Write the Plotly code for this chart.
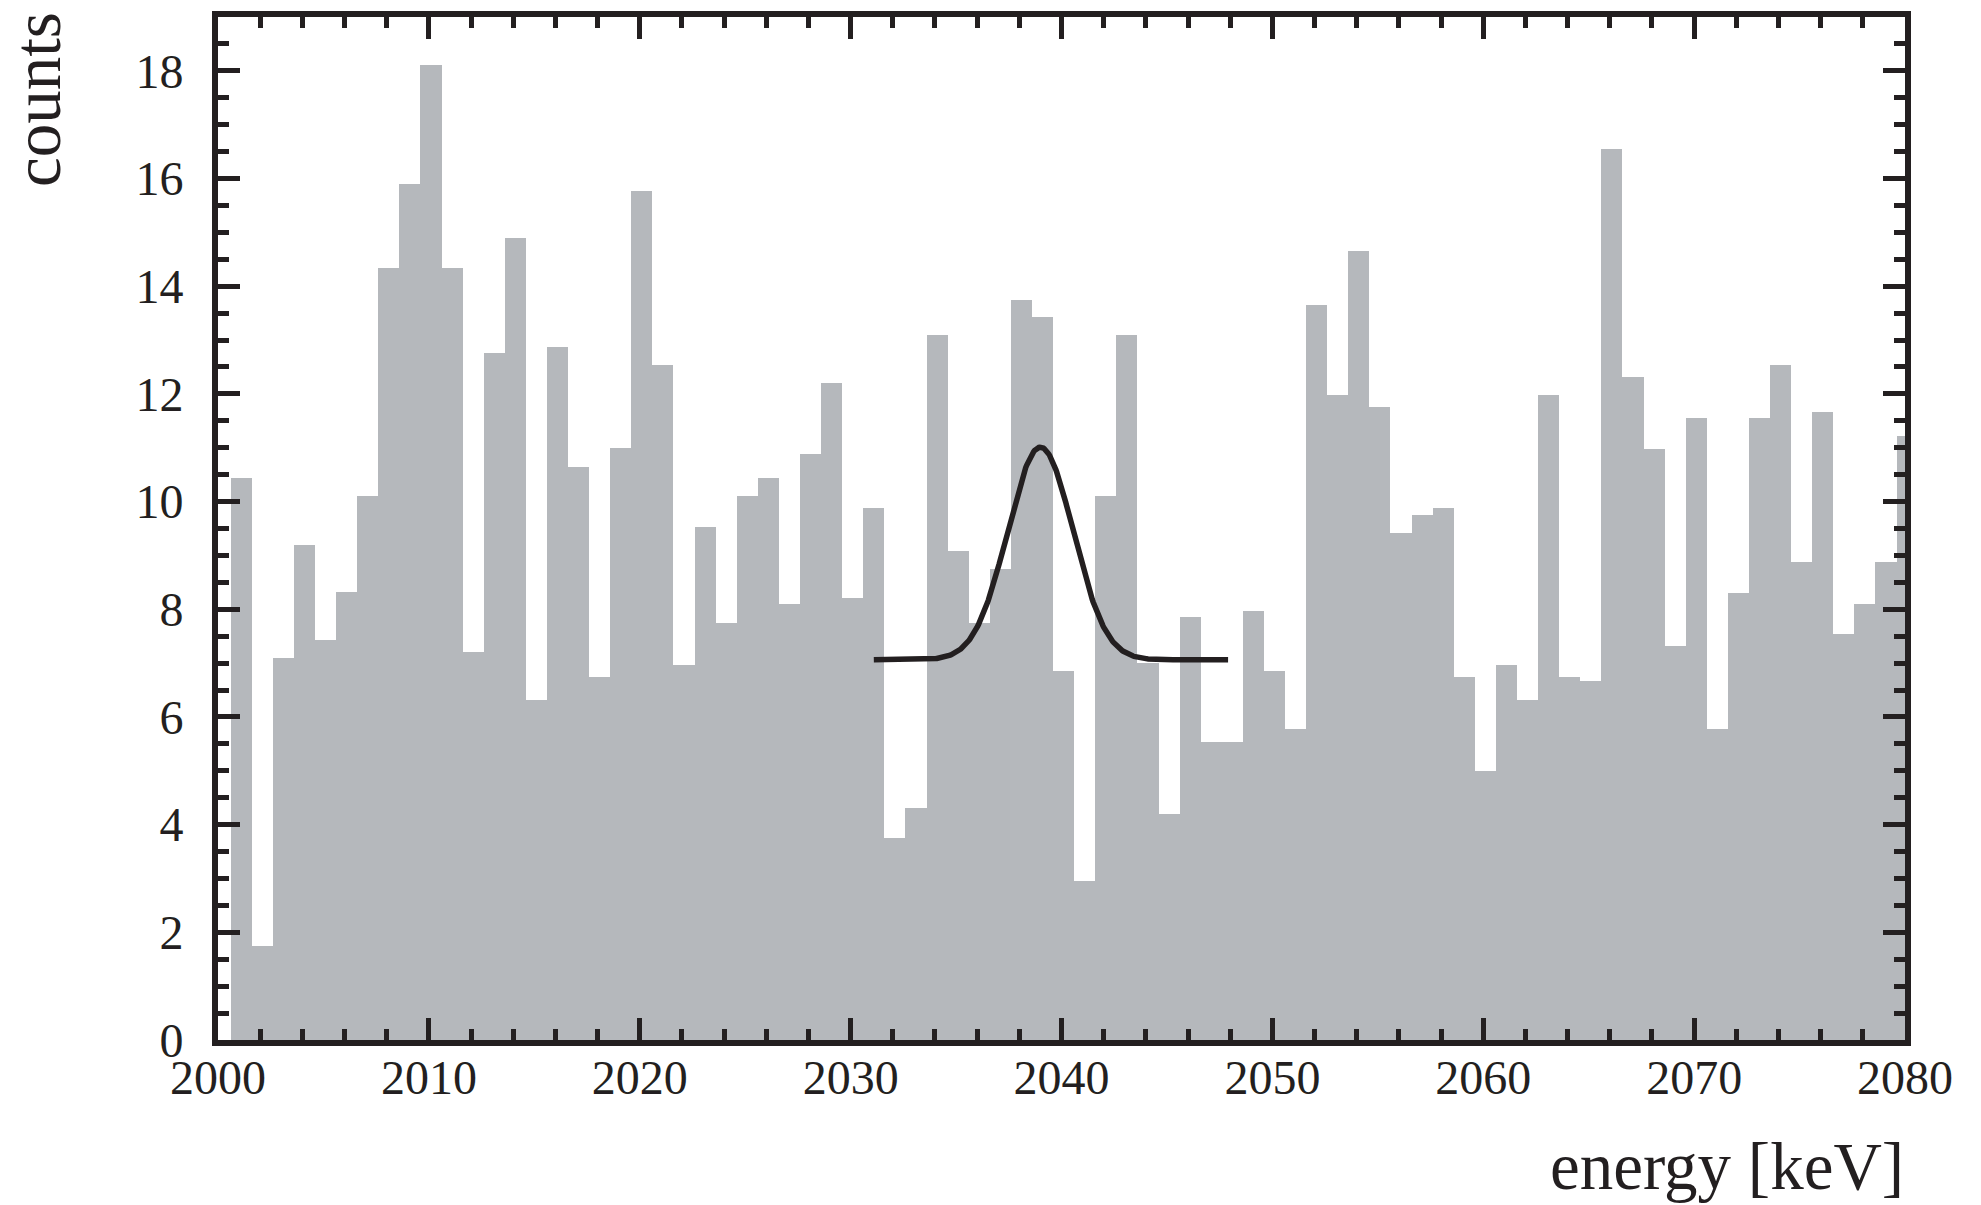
import numpy as np
import plotly.graph_objects as go

# Energy spectrum: counts per 1 keV bin, first bin starting at 2000.6 keV
first_bin_edge = 2000.6
bin_width = 1.0
counts = [
    10.43, 1.75, 7.09, 9.19, 7.43, 8.32, 10.10, 14.33, 15.90, 18.11,
    14.33, 7.20, 12.76, 14.89, 6.31, 12.88, 10.65, 6.75, 10.99, 15.77,
    12.54, 6.97, 9.53, 7.75, 10.10, 10.43, 8.10, 10.88, 12.21, 8.21,
    9.88, 3.75, 4.30, 13.10, 9.09, 7.75, 8.75, 13.75, 13.43, 6.85,
    2.96, 10.10, 13.10, 7.00, 4.20, 7.86, 5.53, 5.53, 7.97, 6.85,
    5.77, 13.65, 11.98, 14.66, 11.75, 9.42, 9.76, 9.88, 6.75, 4.99,
    6.97, 6.31, 11.98, 6.75, 6.66, 16.55, 12.32, 10.97, 7.31, 11.55,
    5.77, 8.31, 11.55, 12.54, 8.88, 11.66, 7.54, 8.10, 8.88, 11.21,
]
bin_centers = first_bin_edge + bin_width * (np.arange(len(counts)) + 0.5)

# Fitted line: flat background plus a Gaussian peak
fit_background = 7.06
fit_amplitude = 3.95
fit_center = 2039.0
fit_sigma = 1.55
fit_x_start = 2031.1
fit_x_end = 2047.9

x_ticks = [2000, 2010, 2020, 2030, 2040, 2050, 2060, 2070, 2080]
y_ticks = [0, 2, 4, 6, 8, 10, 12, 14, 16, 18]

fit_x = np.linspace(fit_x_start, fit_x_end, 400)
fit_y = fit_background + fit_amplitude * np.exp(-0.5 * ((fit_x - fit_center) / fit_sigma) ** 2)

W, H = 1981, 1205
L, R, T, B = 218, 76, 17, 165
plot_w = W - L - R
plot_h = H - T - B

INK = "#231f20"
BAR = "#b5b8bc"
FONT = "Liberation Serif"


def paper_x(px):
    return (px - L) / plot_w


def paper_y(py):
    return (H - B - py) / plot_h


fig = go.Figure()
fig.add_trace(go.Bar(
    x=bin_centers,
    y=counts,
    width=bin_width,
    marker=dict(color=BAR, line=dict(width=0)),
    hoverinfo="x+y",
))
fig.add_trace(go.Scatter(
    x=fit_x,
    y=fit_y,
    mode="lines",
    line=dict(color=INK, width=5.5),
    hoverinfo="skip",
))

axis_common = dict(
    showline=True,
    linecolor=INK,
    linewidth=6,
    mirror="allticks",
    ticks="inside",
    tickcolor=INK,
    tickwidth=5,
    ticklen=22,
    showgrid=False,
    zeroline=False,
    tickfont=dict(family=FONT, size=48, color=INK),
)

fig.update_xaxes(
    range=[2000, 2080],
    tickvals=x_ticks,
    ticktext=[str(v) for v in x_ticks],
    minor=dict(ticks="inside", dtick=2, tick0=2000, ticklen=11, tickwidth=5, tickcolor=INK),
    ticklabelstandoff=-10,
    **axis_common,
)
fig.update_yaxes(
    range=[0, 19],
    tickvals=y_ticks,
    ticktext=[str(v) for v in y_ticks],
    minor=dict(ticks="inside", dtick=0.5, tick0=0, ticklen=11, tickwidth=5, tickcolor=INK),
    ticklabelstandoff=19,
    **axis_common,
)

fig.add_annotation(
    text="counts",
    xref="paper", yref="paper",
    x=paper_x(37), y=paper_y(100),
    xanchor="center", yanchor="middle",
    textangle=-90,
    showarrow=False,
    font=dict(family=FONT, size=67, color=INK),
)
fig.add_annotation(
    text="energy [keV]",
    xref="paper", yref="paper",
    x=paper_x(1905), y=paper_y(1204),
    xanchor="right", yanchor="bottom",
    showarrow=False,
    borderpad=0,
    font=dict(family=FONT, size=67, color=INK),
)

fig.update_layout(
    width=W,
    height=H,
    margin=dict(l=L, r=R, t=T, b=B),
    paper_bgcolor="white",
    plot_bgcolor="white",
    showlegend=False,
    bargap=0,
)

fig.write_html("out.html")
